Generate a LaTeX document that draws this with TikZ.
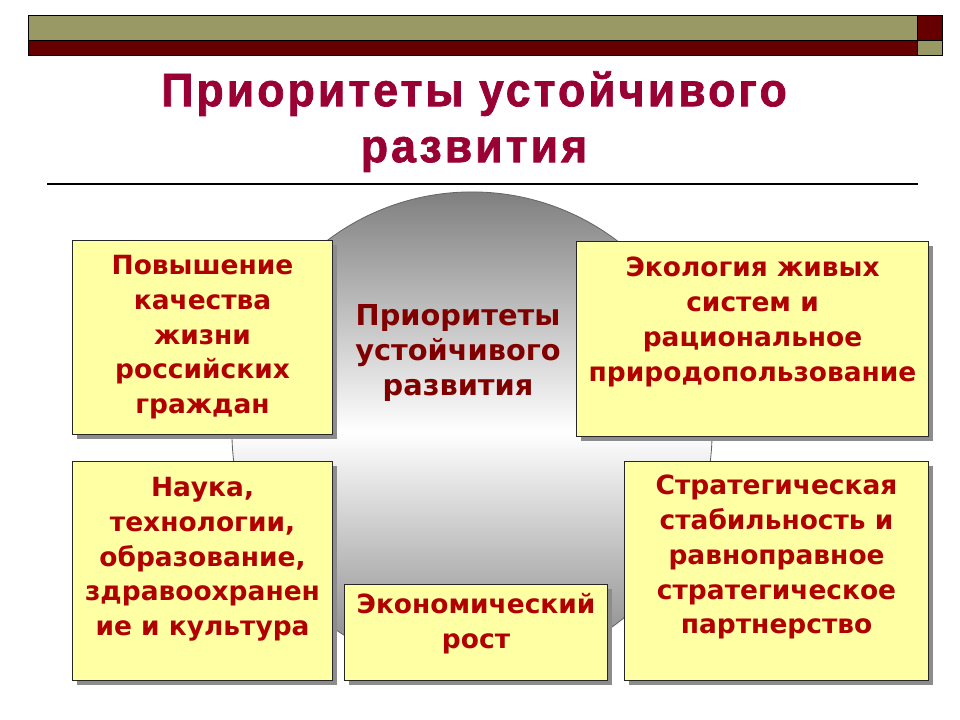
\documentclass[tikz,border=0pt]{standalone}
\usepackage{fontspec}
\setmainfont{DejaVu Sans}
\newfontfamily\titlefont[FakeStretch=0.95, LetterSpace=6.5, FakeBold=1.5]{Liberation Sans}
\usetikzlibrary{positioning, shadows}

\definecolor{olivebar}{HTML}{999966}
\definecolor{maroonbar}{HTML}{660000}
\definecolor{titlered}{HTML}{990033}
\definecolor{notered}{HTML}{B00000}
\definecolor{corered}{HTML}{800000}
\definecolor{notefill}{HTML}{FFFFA3}

\begin{document}
\begin{tikzpicture}[x=0.025cm, y=-0.025cm,
  bar/.style={draw=black, line width=0.6pt},
  note/.style={draw=black!85, line width=0.7pt, fill=notefill, inner sep=0pt,
    anchor=north west,
    drop shadow={shadow xshift=0.12cm, shadow yshift=-0.12cm,
      fill=black!45, opacity=1}},
  notetext/.style={inner sep=0pt, align=center, text=notered,
    font=\fontsize{18.8}{24.7}\selectfont\bfseries},
  heading/.style={anchor=north, inner sep=0pt, align=center, text=titlered,
    font=\titlefont\fontsize{33.4}{39.8}\selectfont\bfseries}
]
\useasboundingbox (0,0) rectangle (960,720);

% Top bar
\draw[bar, fill=olivebar] (28,15) rectangle (917,40);
\draw[bar, fill=maroonbar] (28,40) rectangle (917,55);
\draw[bar, fill=maroonbar] (917,15) rectangle (942,40);
\draw[bar, fill=olivebar] (917,40) rectangle (942,55);

% Title
\node[heading] (title) at (474,71)
  {Приоритеты устойчивого\\развития};
\draw[line width=1pt] (47,184) -- (918,184);

% Central circle
\node[circle, minimum size=12cm, inner sep=0pt, draw=black!60, line width=0.6pt,
  top color=black!50, bottom color=black!50, middle color=white] (core) at (472,432) {};
\node[notetext, anchor=north, text=corered,
  font=\fontsize{20.5}{24.9}\selectfont\bfseries] (coretext) at (458,304)
  {Приоритеты\\устойчивого\\развития};

% Priorities (boxes)
\node[note, minimum width=6.5cm, minimum height=4.85cm] (life) at (72,240) {};
\node[notetext, below=0.375cm of life.north]
  {Повышение\\качества\\жизни\\российских\\граждан};

\node[note, minimum width=8.8cm, minimum height=4.875cm] (eco) at (576,241) {};
\node[notetext, below=0.4cm of eco.north]
  {Экология живых\\систем и\\рациональное\\природопользование};

\node[note, minimum width=6.5cm, minimum height=5.475cm] (sci) at (72,461) {};
\node[notetext, below=0.4cm of sci.north]
  {Наука,\\технологии,\\образование,\\здравоохранен\\ие и культура};

\node[note, minimum width=7.6cm, minimum height=5.475cm] (strat) at (624,461) {};
\node[notetext, below=0.35cm of strat.north]
  {Стратегическая\\стабильность и\\равноправное\\стратегическое\\партнерство};

\node[note, minimum width=6.575cm, minimum height=2.4cm] (econ) at (344,584) {};
\node[notetext, below=0.225cm of econ.north]
  {Экономический\\рост};

\end{tikzpicture}
\end{document}
